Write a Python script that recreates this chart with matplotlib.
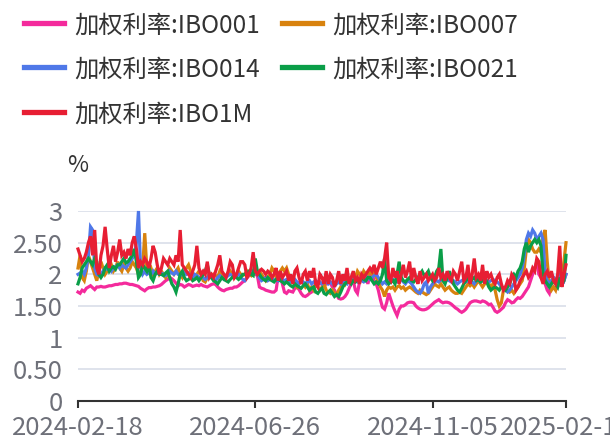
import matplotlib
matplotlib.use("Agg")
import matplotlib.pyplot as plt
from matplotlib.lines import Line2D

plt.rcParams['font.family'] = ['Noto Sans CJK SC', 'DejaVu Sans']

series_names = ["加权利率:IBO001", "加权利率:IBO007", "加权利率:IBO014", "加权利率:IBO021", "加权利率:IBO1M"]
colors = ["#F42A9C", "#D8820E", "#4F78E8", "#0A9E48", "#E71E33"]

tick_labels = ["2024-02-18", "2024-06-26", "2024-11-05", "2025-02-14"]
tick_index = [0, 85, 170, 234]

ibo001 = [
    1.72,1.70,1.75,1.73,1.78,1.80,1.82,1.79,1.76,1.80,1.80,1.81,1.80,1.80,1.81,1.82,1.82,1.83,1.84,1.84,
    1.85,1.85,1.86,1.86,1.85,1.84,1.84,1.83,1.82,1.81,1.78,1.76,1.74,1.77,1.79,1.79,1.80,1.80,1.81,1.82,
    1.84,1.87,1.90,1.92,1.95,1.93,1.90,1.86,1.82,1.84,1.83,1.80,1.82,1.84,1.83,1.81,1.82,1.83,1.82,1.84,
    1.82,1.81,1.80,1.82,1.84,1.85,1.84,1.80,1.77,1.75,1.74,1.76,1.77,1.78,1.78,1.80,1.80,1.82,1.85,1.88,
    1.90,1.94,1.98,2.00,2.01,2.00,1.98,1.80,1.78,1.77,1.75,1.74,1.73,1.72,1.72,1.75,1.98,2.00,1.85,1.72,
    1.70,1.74,1.73,1.72,1.78,1.80,1.76,1.70,1.66,1.65,1.67,1.70,1.72,1.80,1.85,1.88,1.86,1.84,1.82,1.85,
    1.90,1.86,1.80,1.75,1.68,1.62,1.61,1.62,1.65,1.70,1.78,1.85,1.90,1.75,1.70,1.88,1.98,2.00,1.95,1.85,
    1.98,2.00,1.90,1.85,1.75,1.60,1.48,1.45,1.55,1.70,1.60,1.50,1.42,1.35,1.45,1.50,1.50,1.52,1.55,1.56,
    1.56,1.55,1.50,1.47,1.45,1.44,1.44,1.45,1.47,1.50,1.53,1.56,1.58,1.60,1.57,1.55,1.56,1.56,1.55,1.53,
    1.50,1.47,1.45,1.42,1.40,1.42,1.45,1.50,1.55,1.57,1.58,1.58,1.57,1.56,1.58,1.57,1.55,1.52,1.53,1.48,
    1.42,1.40,1.42,1.45,1.48,1.55,1.60,1.58,1.55,1.56,1.60,1.63,1.62,1.65,1.70,1.75,1.80,1.90,2.00,2.10,
    2.20,2.00,1.95,1.90,1.85,1.75,1.70,1.85,1.95,1.90,1.80,1.85,1.95,1.90,2.00,
]

ibo007 = [
    2.10,2.30,1.95,1.90,2.05,2.30,2.20,2.10,2.00,1.90,2.05,2.20,2.10,2.00,2.05,2.10,2.15,2.05,2.10,2.20,
    2.10,2.05,2.15,2.10,2.05,2.10,2.20,2.15,2.10,2.00,2.05,2.10,2.65,2.10,2.05,2.10,2.00,2.05,2.10,2.00,
    2.05,2.00,1.95,2.00,2.10,2.05,2.00,2.05,2.10,2.00,1.95,2.05,2.10,2.15,2.05,2.00,1.95,2.00,2.05,2.00,
    1.90,1.88,1.95,2.00,1.95,2.00,1.98,1.95,2.05,2.00,1.95,1.98,2.00,2.05,2.00,1.95,2.00,2.05,2.00,1.98,
    2.00,2.05,2.00,1.98,2.05,2.02,2.00,2.05,2.00,1.95,1.90,1.95,2.00,2.10,2.05,1.95,2.00,2.05,2.10,2.05,
    2.10,2.00,1.95,1.90,1.85,1.80,1.85,1.90,1.85,1.80,1.85,1.75,1.80,1.75,1.85,1.80,1.75,1.80,1.85,1.75,
    1.72,1.70,1.75,1.70,1.68,1.75,1.80,1.90,1.85,1.95,1.90,1.95,2.00,1.95,2.05,2.00,1.95,2.05,2.00,2.00,
    2.05,2.00,2.05,1.95,1.90,1.80,1.75,1.65,1.75,1.80,1.78,1.80,1.75,1.80,1.82,1.78,1.80,1.75,1.78,1.80,
    1.78,1.75,1.72,1.70,1.75,1.72,1.70,1.68,1.70,1.75,1.80,1.85,1.82,1.80,1.85,1.80,1.75,1.78,1.80,1.75,
    1.72,1.70,1.70,1.72,1.70,1.75,1.80,1.85,1.82,1.85,1.80,1.85,1.90,1.85,1.80,1.85,1.90,1.85,1.80,1.85,
    1.75,1.60,1.50,1.55,1.75,1.80,1.75,1.72,1.75,1.70,1.75,1.80,1.85,1.90,2.10,2.40,2.55,2.50,2.40,2.35,
    2.35,2.40,2.35,2.60,2.70,2.20,1.85,1.75,1.80,1.75,1.90,2.00,1.90,2.20,2.50,
]

ibo014 = [
    2.00,2.02,2.05,2.00,2.10,2.30,2.75,2.70,2.10,2.00,1.98,2.00,2.05,2.10,2.08,2.10,2.05,2.10,2.12,2.15,
    2.10,2.15,2.12,2.10,2.15,2.20,2.25,2.30,2.50,3.00,2.10,2.00,2.05,2.00,2.02,2.00,2.05,2.00,2.02,2.00,
    2.02,2.00,1.98,2.00,2.05,2.02,2.00,2.05,2.00,1.98,2.00,2.05,2.00,2.02,1.98,1.95,2.00,1.98,1.95,1.95,
    1.95,1.92,1.95,1.98,1.95,1.92,1.90,1.95,1.98,1.95,1.92,1.95,1.98,2.00,1.98,1.95,1.98,2.00,1.95,1.92,
    1.90,1.95,2.00,2.05,2.05,2.02,2.00,1.95,1.90,1.92,1.95,1.90,1.92,1.95,1.90,1.92,1.90,1.95,1.92,1.90,
    1.92,1.90,1.88,1.90,1.92,1.88,1.85,1.90,1.88,1.85,1.88,1.90,1.85,1.88,1.90,1.85,1.88,1.85,1.88,1.90,
    1.85,1.88,1.85,1.82,1.85,1.88,1.85,1.90,1.88,1.85,1.90,1.88,1.92,1.90,1.88,1.92,1.90,1.88,1.90,1.95,
    1.92,1.95,1.98,2.00,1.95,1.90,1.85,1.88,1.85,1.90,1.88,1.92,1.90,1.88,1.90,1.92,1.88,1.85,1.90,1.88,
    1.85,1.80,1.75,1.72,1.70,1.75,1.85,1.88,1.70,1.80,1.85,1.88,1.90,1.88,1.92,1.90,1.88,1.92,1.90,1.88,
    1.90,1.88,1.85,1.88,1.90,1.92,1.88,1.90,1.92,1.88,1.85,1.90,1.92,1.88,1.90,1.92,1.90,1.88,1.90,1.92,
    1.90,1.88,1.85,1.80,1.78,1.75,1.72,1.75,1.80,1.85,1.90,1.95,2.00,2.10,2.30,2.55,2.65,2.60,2.70,2.65,
    2.55,2.60,2.65,2.55,2.00,1.90,1.85,1.90,1.95,1.90,1.95,2.00,1.95,1.90,2.00,
]

ibo021 = [
    1.85,1.95,2.10,2.15,2.20,2.25,2.20,2.15,2.25,2.20,2.00,1.95,2.00,2.10,2.15,2.05,2.10,2.12,2.08,2.15,
    2.15,2.20,2.25,2.18,2.20,2.25,2.30,2.40,2.20,1.95,2.00,2.15,2.10,2.05,2.15,1.95,1.90,2.00,2.05,2.00,
    2.00,1.98,2.02,2.05,1.95,1.85,1.80,1.72,1.85,2.00,2.05,1.95,1.90,1.92,1.95,1.90,1.92,1.95,1.90,1.95,
    2.00,2.05,2.15,2.00,1.95,1.90,1.88,1.85,1.90,1.95,1.92,1.90,1.88,1.92,1.95,1.98,1.95,1.92,1.95,2.00,
    2.00,2.02,2.05,2.00,1.98,2.25,2.05,2.00,1.95,1.92,1.90,1.95,1.92,1.90,1.88,1.92,1.95,1.90,1.88,1.85,
    1.88,1.85,1.82,1.80,1.85,1.82,1.80,1.78,1.82,1.85,1.80,1.75,1.78,1.80,1.72,1.70,1.75,1.78,1.70,1.68,
    1.72,1.75,1.70,1.65,1.68,1.65,1.72,1.80,1.85,1.88,1.90,1.85,1.90,1.88,1.92,1.90,1.95,1.92,1.90,1.95,
    1.95,1.90,1.85,1.88,1.85,1.90,2.00,2.25,1.90,1.85,1.88,1.90,1.85,2.00,2.20,1.95,1.90,1.88,1.92,1.95,
    1.90,1.88,1.92,1.95,2.00,2.05,1.98,2.00,2.05,1.95,1.90,1.95,2.05,2.10,2.40,1.90,1.85,1.95,2.05,1.95,
    1.85,1.80,1.75,1.72,1.78,1.85,1.90,1.95,1.88,1.92,1.95,1.90,1.92,1.88,1.90,1.95,1.88,1.80,1.75,1.78,
    1.80,1.78,1.75,1.80,1.78,1.75,1.80,1.85,1.95,2.00,1.95,2.05,2.10,2.20,2.40,2.50,2.35,2.45,2.50,2.55,
    2.50,2.55,2.45,2.00,1.90,1.85,1.80,1.85,1.90,1.85,1.80,1.95,1.85,1.90,2.30,
]

ibo1m = [
    2.40,2.30,2.20,2.25,2.35,2.50,2.60,2.30,2.70,2.10,2.00,2.30,2.45,2.75,2.40,2.10,2.30,2.45,2.20,2.35,
    2.55,2.30,2.35,2.25,2.40,2.30,2.50,2.60,2.40,2.10,2.20,2.15,2.25,2.20,2.10,2.25,2.45,2.35,2.15,2.00,
    2.10,2.25,2.20,2.15,2.25,2.20,2.15,2.30,2.20,2.70,2.15,2.10,2.05,2.00,1.95,2.05,2.15,2.45,2.10,2.00,
    2.05,2.00,2.20,1.95,2.00,1.95,2.05,2.15,2.30,2.05,2.00,1.95,2.05,2.20,2.15,1.95,2.00,2.10,2.20,2.20,
    2.15,1.95,2.00,2.10,2.35,2.05,2.00,2.05,2.08,2.05,2.00,2.05,2.02,1.95,2.00,2.10,1.90,2.05,1.95,2.00,
    2.05,1.90,2.00,1.85,2.05,2.10,1.95,1.85,2.00,2.05,1.90,2.05,1.95,2.10,1.85,1.80,2.00,1.95,1.85,2.05,
    1.85,2.00,1.95,1.80,1.90,2.05,1.85,2.00,1.90,2.10,1.85,1.95,2.05,1.90,1.95,1.85,2.00,1.95,2.00,2.05,
    2.10,2.05,2.15,2.00,2.10,2.20,2.10,2.25,2.50,1.95,1.90,2.10,1.95,2.05,1.85,2.00,2.15,1.95,2.05,2.20,
    1.90,2.10,1.95,1.85,2.05,1.90,1.95,2.00,1.90,1.95,2.00,1.90,1.95,2.10,1.95,2.00,1.90,2.05,1.95,1.90,
    2.05,2.00,1.90,2.05,2.20,1.90,1.95,2.15,1.85,2.00,2.25,1.95,2.00,1.90,2.15,1.85,2.05,1.95,2.00,1.90,
    1.85,1.95,2.00,1.85,1.75,1.80,1.90,1.85,2.00,1.95,1.75,1.80,1.90,1.95,2.00,2.05,1.95,2.00,2.10,2.05,
    2.25,2.20,1.95,1.85,2.00,2.05,1.95,2.05,1.90,1.85,2.00,2.45,1.80,2.00,2.15,
]

all_series = [ibo001, ibo007, ibo014, ibo021, ibo1m]
n = len(ibo001)
for s in all_series:
    assert len(s) == n, len(s)

W, H = 610, 437
fig = plt.figure(figsize=(W / 100, H / 100), dpi=100)

x0, x1 = 78, 566
y_top, y_bot = 211, 401
ax = fig.add_axes([x0 / W, 1 - y_bot / H, (x1 - x0) / W, (y_bot - y_top) / H])

xs = list(range(n))
for s, c in zip(all_series, colors):
    ax.plot(xs, s, color=c, lw=2.3, solid_joinstyle='miter', clip_on=False)

ax.set_xlim(0, n - 1)
ax.set_ylim(0, 3)
yt = [0, 0.5, 1, 1.5, 2, 2.5, 3]
ax.set_yticks(yt)
ax.set_yticklabels(["0", "0.50", "1", "1.50", "2", "2.50", "3"])
ax.set_xticks(tick_index)
ax.set_xticklabels(tick_labels)

ax.grid(axis='y', color='#DCE0EB', lw=1.3)
ax.set_axisbelow(True)
for sp in ['top', 'right', 'left']:
    ax.spines[sp].set_visible(False)
ax.spines['bottom'].set_color('#333333')
ax.spines['bottom'].set_linewidth(1.5)
ax.tick_params(axis='y', length=0, pad=11, labelsize=18.5, labelcolor='#6E7079')
ax.tick_params(axis='x', length=5, width=1.5, color='#333333', pad=5, labelsize=18.5, labelcolor='#6E7079')

# axis name
fig.text(78 / W, 1 - 165 / H, "%", ha='center', va='center', fontsize=16.5, color='#333333')

# legend
leg_pos = [(24, 23), (282, 23), (24, 67), (282, 67), (24, 112)]
for (lx, ly), name, c in zip(leg_pos, series_names, colors):
    fig.add_artist(Line2D([lx / W, (lx + 40) / W], [1 - ly / H, 1 - ly / H],
                          color=c, lw=3.8, transform=fig.transFigure))
    fig.text((lx + 50) / W, 1 - ly / H, name, ha='left', va='center_baseline',
             fontsize=17.5, color='#333333')

fig.savefig("out.png", dpi=100)
